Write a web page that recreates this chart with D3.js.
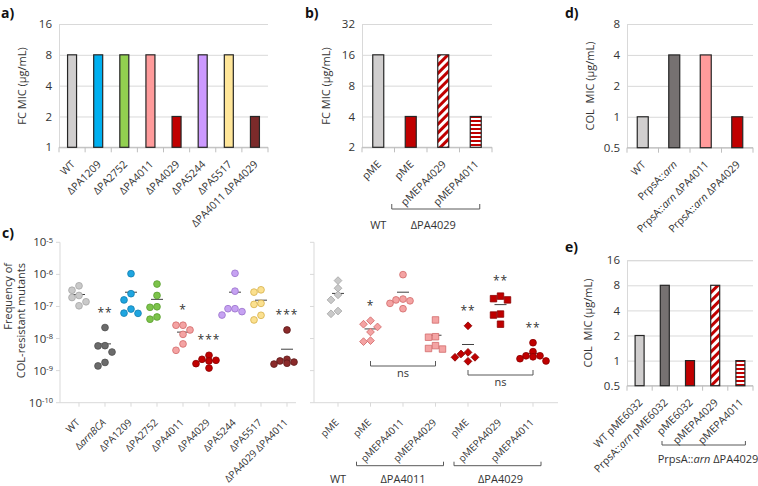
<!DOCTYPE html>
<html lang="en">
<head>
<meta charset="UTF-8">
<title>MIC and mutant frequency panels</title>
<script src="https://d3js.org/d3.v7.min.js"></script>
<style>
  body { margin: 0; background: #fff; }
  svg { display: block; }
  text { font-family: 'Open Sans', sans-serif; fill: #333; }
</style>
</head>
<body>
<svg width="758" height="486"></svg>
<script>
// ---- data ----
const aCats = ["WT", "ΔPA1209", "ΔPA2752", "ΔPA4011", "ΔPA4029", "ΔPA5244", "ΔPA5517", "ΔPA4011 ΔPA4029"];
const aMic = [8, 8, 8, 8, 2, 8, 8, 2];
const aTicks = [1, 2, 4, 8, 16];

const bCats = ["pME", "pME", "pMEPA4029", "pMEPA4011"];
const bMic = [16, 4, 16, 4];
const bTicks = [2, 4, 8, 16, 32];

const dCats = ["WT", "PrpsA::arn", "PrpsA::arn ΔPA4011", "PrpsA::arn ΔPA4029"];
const dMic = [1, 4, 4, 1];
const dTicks = [0.5, 1, 2, 4, 8];

const eCats = ["WT pME6032", "PrpsA::arn pME6032", "pME6032", "pMEPA4029", "pMEPA4011"];
const eMic = [2, 8, 1, 8, 1];
const eTicks = [0.5, 1, 2, 4, 8, 16];

const cExps = [-10, -9, -8, -7, -6, -5];

const cLeftCats = ["WT", "ΔarnBCA", "ΔPA1209", "ΔPA2752", "ΔPA4011", "ΔPA4029", "ΔPA5244", "ΔPA5517", "ΔPA4029 ΔPA4011"];
const cLeftFreq = [
  [4.4e-7, 3.2e-7, 2.2e-7, 1.9e-7, 1.4e-7, 1.05e-7],
  [2.2e-8, 6.0e-9, 5.9e-9, 3.8e-9, 1.8e-9, 1.4e-9],
  [1.05e-6, 2.5e-7, 1.6e-7, 8.3e-8, 6.2e-8, 6.1e-8],
  [5.0e-7, 2.2e-7, 9.8e-8, 9.4e-8, 4.7e-8, 4.0e-8],
  [2.6e-8, 2.6e-8, 1.85e-8, 1.35e-8, 6.8e-9, 4.3e-9],
  [3.0e-9, 2.25e-9, 2.1e-9, 2.0e-9, 1.65e-9, 1.2e-9],
  [1.08e-6, 3.0e-7, 8.5e-8, 8.5e-8, 6.9e-8, 5.4e-8],
  [3.3e-7, 2.8e-7, 1.25e-7, 1.16e-7, 5.3e-8, 3.8e-8],
  [1.85e-8, 2.25e-9, 2.0e-9, 1.85e-9, 1.7e-9, 1.6e-9]
];
const cLeftSig = ["", "**", "", "", "*", "***", "", "", "***"];

const cRightCats = ["pME", "pME", "pMEPA4011", "pMEPA4029", "pME", "pMEPA4029", "pMEPA4011"];
const cRightFreq = [
  [6.4e-7, 3.7e-7, 2.3e-7, 1.6e-7, 7.2e-8, 5.9e-8],
  [3.6e-8, 2.8e-8, 2.3e-8, 1.6e-8, 8.6e-9, 8.0e-9],
  [9.8e-7, 1.7e-7, 1.6e-7, 1.5e-7, 1.25e-7, 8.5e-8],
  [3.8e-8, 1.14e-8, 1.1e-8, 6.0e-9, 4.9e-9, 4.7e-9],
  [2.5e-8, 3.7e-9, 3.3e-9, 2.6e-9, 2.6e-9, 1.95e-9],
  [2.1e-7, 1.75e-7, 1.6e-7, 5.8e-8, 5.4e-8, 2.8e-8],
  [7.4e-9, 3.9e-9, 2.9e-9, 2.9e-9, 2.7e-9, 2.35e-9, 2.0e-9]
];
const cRightSig = ["", "*", "", "", "**", "**", "**"];
const cRightNs = [[1, 3], [4, 6]];
const cRightGroups = [["WT", 0, 0], ["ΔPA4011", 1, 3], ["ΔPA4029", 4, 6]];

const bGroups = [["WT", 0, 0], ["ΔPA4029", 1, 3]];
const eGroups = [["PrpsA::arn ΔPA4029", 2, 4]];

// ---- drawing ----
const svg = d3.select("svg");
const RED = "#c00000", PINK = "#ff9b9b", GRAY = "#d0cece", DGRAY = "#767171";

const defs = svg.append("defs");
const diag = defs.append("pattern").attr("id", "diag").attr("patternUnits", "userSpaceOnUse")
  .attr("width", 6).attr("height", 6).attr("patternTransform", "rotate(45)");
diag.append("rect").attr("width", 6).attr("height", 6).attr("fill", "#fff");
diag.append("rect").attr("width", 3).attr("height", 6).attr("fill", RED);
const hs = defs.append("pattern").attr("id", "hstripe").attr("patternUnits", "userSpaceOnUse")
  .attr("width", 4).attr("height", 4);
hs.append("rect").attr("width", 4).attr("height", 4).attr("fill", "#fff");
hs.append("rect").attr("width", 4).attr("height", 2).attr("fill", RED);

// italic for gene names
function rich(sel, t) {
  t.split(/(arnBCA|arn)/).forEach(p => {
    if (!p) return;
    const ts = sel.append("tspan").text(p);
    if (p === "arn" || p === "arnBCA") ts.style("font-style", "italic");
  });
}

function rotLabels(g, xs, labels, y0, dx, dy, fs) {
  labels.forEach((t, i) => {
    const tx = g.append("text")
      .attr("transform", `translate(${xs[i] + dx},${y0 + dy}) rotate(-45)`)
      .attr("text-anchor", "end").attr("dy", "0.35em")
      .style("font-size", fs + "px");
    rich(tx, t);
  });
}

function bracket(g, x1, x2, yb, h) {
  g.append("path")
    .attr("d", `M${x1},${yb - h}V${yb}H${x2}V${yb - h}`)
    .attr("fill", "none").attr("stroke", "#595959").attr("stroke-width", 1);
}

function panelTag(t, x, y) {
  svg.append("text").attr("x", x).attr("y", y).text(t)
    .style("font-size", "14px").style("font-weight", "bold").style("fill", "#111");
}

function yTitle(t, x, y) {
  svg.append("text").attr("transform", `translate(${x},${y}) rotate(-90)`)
    .attr("text-anchor", "middle").attr("dy", "0.35em")
    .style("font-size", "11px").style("white-space", "pre").text(t);
}

function barPanel(o) {
  const g = svg.append("g");
  const x = d3.scaleBand().domain(d3.range(o.cats.length)).range(o.xr);
  const y = d3.scaleLog().base(2).domain([o.ticks[0], o.ticks[o.ticks.length - 1]]).range(o.yr);
  const w = o.xr[1] - o.xr[0];

  const ax = g.append("g").attr("transform", `translate(${o.xr[0]},0)`)
    .call(d3.axisLeft(y).tickValues(o.ticks).tickSize(-w).tickPadding(7).tickFormat(d => d));
  ax.select(".domain").attr("stroke", "#d9d9d9");
  ax.selectAll(".tick line").attr("stroke", "#d9d9d9");
  ax.selectAll(".tick text").style("font-size", "11.5px").style("font-family", "'Open Sans', sans-serif").attr("fill", "#333");

  const base = y(o.ticks[0]);
  g.append("line").attr("x1", o.xr[0]).attr("x2", o.xr[1]).attr("y1", base).attr("y2", base).attr("stroke", "#bfbfbf");
  g.selectAll("line.bt").data(d3.range(o.cats.length + 1)).join("line").attr("class", "bt")
    .attr("x1", i => o.xr[0] + i * x.step()).attr("x2", i => o.xr[0] + i * x.step())
    .attr("y1", base).attr("y2", base + 5).attr("stroke", "#bfbfbf");

  g.selectAll("rect.bar").data(o.vals).join("rect").attr("class", "bar")
    .attr("x", (d, i) => x(i) + x.bandwidth() / 2 - o.bw / 2)
    .attr("y", d => y(d)).attr("width", o.bw).attr("height", d => base - y(d))
    .attr("fill", (d, i) => o.fills[i]).attr("stroke", "#262626").attr("stroke-width", 1.2);

  const cx = o.cats.map((c, i) => x(i) + x.bandwidth() / 2);
  rotLabels(g, cx, o.cats, base, 1, 15, 10.5);
  return { g, x, cx, base };
}

// panel a
panelTag("a)", 1, 18);
yTitle("FC MIC (µg/mL)", 22, 86);
barPanel({ cats: aCats, vals: aMic, ticks: aTicks, xr: [59, 268], yr: [147.3, 24], bw: 9,
  fills: [GRAY, "#00b0f0", "#92d050", PINK, RED, "#cc99ff", "#ffe699", "#7b2a2a"] });

// panel b
panelTag("b)", 305, 18);
yTitle("FC MIC (µg/mL)", 326, 86);
const pb = barPanel({ cats: bCats, vals: bMic, ticks: bTicks, xr: [362, 492], yr: [147.3, 24], bw: 11,
  fills: [GRAY, RED, "url(#diag)", "url(#hstripe)"] });
bGroups.forEach(([lab, i0, i1]) => {
  if (i1 > i0) bracket(pb.g, pb.cx[i0] - 19, pb.cx[i1] + 4, 209, 5);
  pb.g.append("text").attr("x", i1 > i0 ? (pb.cx[i0] + pb.cx[i1]) / 2 - 10 : pb.cx[i0])
    .attr("y", 229).attr("text-anchor", "middle").style("font-size", "11px").text(lab);
});

// panel d
panelTag("d)", 565, 18);
yTitle("COL  MIC (µg/mL)", 590, 86);
barPanel({ cats: dCats, vals: dMic, ticks: dTicks, xr: [627, 753], yr: [147.7, 24], bw: 11,
  fills: [GRAY, DGRAY, PINK, RED] });

// panel e
panelTag("e)", 565, 252);
yTitle("COL  MIC (µg/mL)", 588, 323);
const pe = barPanel({ cats: eCats, vals: eMic, ticks: eTicks, xr: [627, 753], yr: [385.7, 260.2], bw: 9,
  fills: [GRAY, DGRAY, RED, "url(#diag)", "url(#hstripe)"] });
eGroups.forEach(([lab, i0, i1]) => {
  bracket(pe.g, pe.cx[i0] - 28, pe.cx[i1] + 5, 445, 4);
  const t = pe.g.append("text").attr("x", 708).attr("y", 463).attr("text-anchor", "middle").style("font-size", "11px");
  rich(t, lab);
});

// panel c
panelTag("c)", 2, 238);
svg.append("text").attr("transform", "translate(8,263) rotate(-90)").attr("text-anchor", "end")
  .attr("dy", "0.35em").style("font-size", "11px").text("Frequency of");
svg.append("text").attr("transform", "translate(21,263) rotate(-90)").attr("text-anchor", "end")
  .attr("dy", "0.35em").style("font-size", "11px").text("COL-resistant mutants");

const yc = d3.scaleLog().domain([1e-10, 1e-5]).range([402.7, 242.3]);

const styleL = [
  { f: "#c9c9c9", s: "#a6a6a6" }, { f: "#6b6b6b", s: "#505050" }, { f: "#1ea5e0", s: "#137fb0" },
  { f: "#7cc34a", s: "#5a9e30" }, { f: "#f4a3a3", s: "#d26a6a" }, { f: "#c00000", s: "#8a0000" },
  { f: "#c6a2f2", s: "#9b72cc" }, { f: "#fbe08f", s: "#d6b04a" }, { f: "#8b2a2a", s: "#5e1a1a" }
];
const styleR = [
  { sh: "diamond", f: "#c9c9c9", s: "#a6a6a6" }, { sh: "diamond", f: "#f4a3a3", s: "#d26a6a" },
  { sh: "circle", f: "#f4a3a3", s: "#d26a6a" }, { sh: "square", f: "#f4a3a3", s: "#d26a6a" },
  { sh: "diamond", f: "#c00000", s: "#8a0000" }, { sh: "square", f: "#c00000", s: "#8a0000" },
  { sh: "circle", f: "#c00000", s: "#8a0000" }
];
const shapes = {
  circle: { t: d3.symbolCircle, s: 36, r: 0 },
  square: { t: d3.symbolSquare, s: 42, r: 0 },
  diamond: { t: d3.symbolSquare, s: 30, r: 45 }
};

function swarm(vals, cx) {
  const placed = [];
  vals.map((v, i) => i).sort((a, b) => vals[b] - vals[a]).forEach(i => {
    const py = yc(vals[i]);
    const dx = [0, -7, 7, -13, 13].find(o => placed.every(p => Math.hypot(p.x - (cx + o), p.y - py) >= 6.5));
    placed.push({ x: cx + (dx === undefined ? 0 : dx), y: py });
  });
  return placed;
}

function dotPanel(o) {
  const g = svg.append("g");
  const x = d3.scalePoint().domain(d3.range(o.cats.length)).range(o.pr);
  const base = yc(1e-10);
  g.append("line").attr("x1", o.ax[0]).attr("x2", o.ax[0]).attr("y1", yc(1e-5)).attr("y2", base).attr("stroke", "#d9d9d9");
  g.append("line").attr("x1", o.ax[0]).attr("x2", o.ax[1]).attr("y1", base).attr("y2", base).attr("stroke", "#d9d9d9");
  g.selectAll("line.yt").data(cExps).join("line").attr("class", "yt")
    .attr("x1", o.ax[0] - 4).attr("x2", o.ax[0]).attr("y1", e => yc(Math.pow(10, e))).attr("y2", e => yc(Math.pow(10, e)))
    .attr("stroke", "#d9d9d9");
  g.selectAll("line.xt").data(d3.range(o.cats.length)).join("line").attr("class", "xt")
    .attr("x1", i => x(i)).attr("x2", i => x(i)).attr("y1", base).attr("y2", base + 4).attr("stroke", "#d9d9d9");
  if (o.yLabels) {
    cExps.forEach(e => {
      const t = g.append("text").attr("x", o.ax[0] - 7).attr("y", yc(Math.pow(10, e))).attr("dy", "0.35em")
        .attr("text-anchor", "end").style("font-size", "11.5px");
      t.append("tspan").text("10");
      t.append("tspan").attr("dy", "-0.45em").style("font-size", "7.5px").text(e);
    });
  }
  o.freq.forEach((vals, i) => {
    const st = o.styles[i];
    const shp = shapes[st.sh || "circle"];
    const cx = x(i);
    const m = d3.mean(vals);
    g.append("line").attr("x1", cx - 6).attr("x2", cx + 6).attr("y1", yc(m)).attr("y2", yc(m))
      .attr("stroke", "#404040").attr("stroke-width", 1);
    g.selectAll(null).data(swarm(vals, cx)).join("path")
      .attr("transform", p => `translate(${p.x},${p.y}) rotate(${shp.r})`)
      .attr("d", d3.symbol(shp.t, shp.s))
      .attr("fill", st.f).attr("stroke", st.s).attr("stroke-width", 0.8);
    if (o.sig[i]) {
      g.append("text").attr("x", cx).attr("y", yc(d3.max(vals)) - 20).attr("dy", "0.75em")
        .attr("text-anchor", "middle").style("font-size", "12px").style("letter-spacing", "1px").text(o.sig[i]);
    }
  });
  rotLabels(g, o.cats.map((c, i) => x(i)), o.cats, base, -1, 18, 10);
  return { g, x };
}

dotPanel({ cats: cLeftCats, freq: cLeftFreq, sig: cLeftSig, styles: styleL, pr: [79, 287], ax: [60, 296], yLabels: true });
const pr = dotPanel({ cats: cRightCats, freq: cRightFreq, sig: cRightSig, styles: styleR, pr: [338, 533], ax: [314, 558], yLabels: false });

cRightNs.forEach(([i0, i1], k) => {
  const yb = k === 0 ? 366 : 375;
  bracket(pr.g, pr.x(i0), pr.x(i1), yb, 5);
  pr.g.append("text").attr("x", (pr.x(i0) + pr.x(i1)) / 2).attr("y", yb + 11)
    .attr("text-anchor", "middle").style("font-size", "11px").text("ns");
});
cRightGroups.forEach(([lab, i0, i1]) => {
  if (i1 > i0) bracket(pr.g, pr.x(i0) - 14, pr.x(i1) + 8, 465.7, 4);
  pr.g.append("text").attr("x", (pr.x(i0) + pr.x(i1)) / 2).attr("y", 483)
    .attr("text-anchor", "middle").style("font-size", "11px").text(lab);
});
</script>
</body>
</html>
